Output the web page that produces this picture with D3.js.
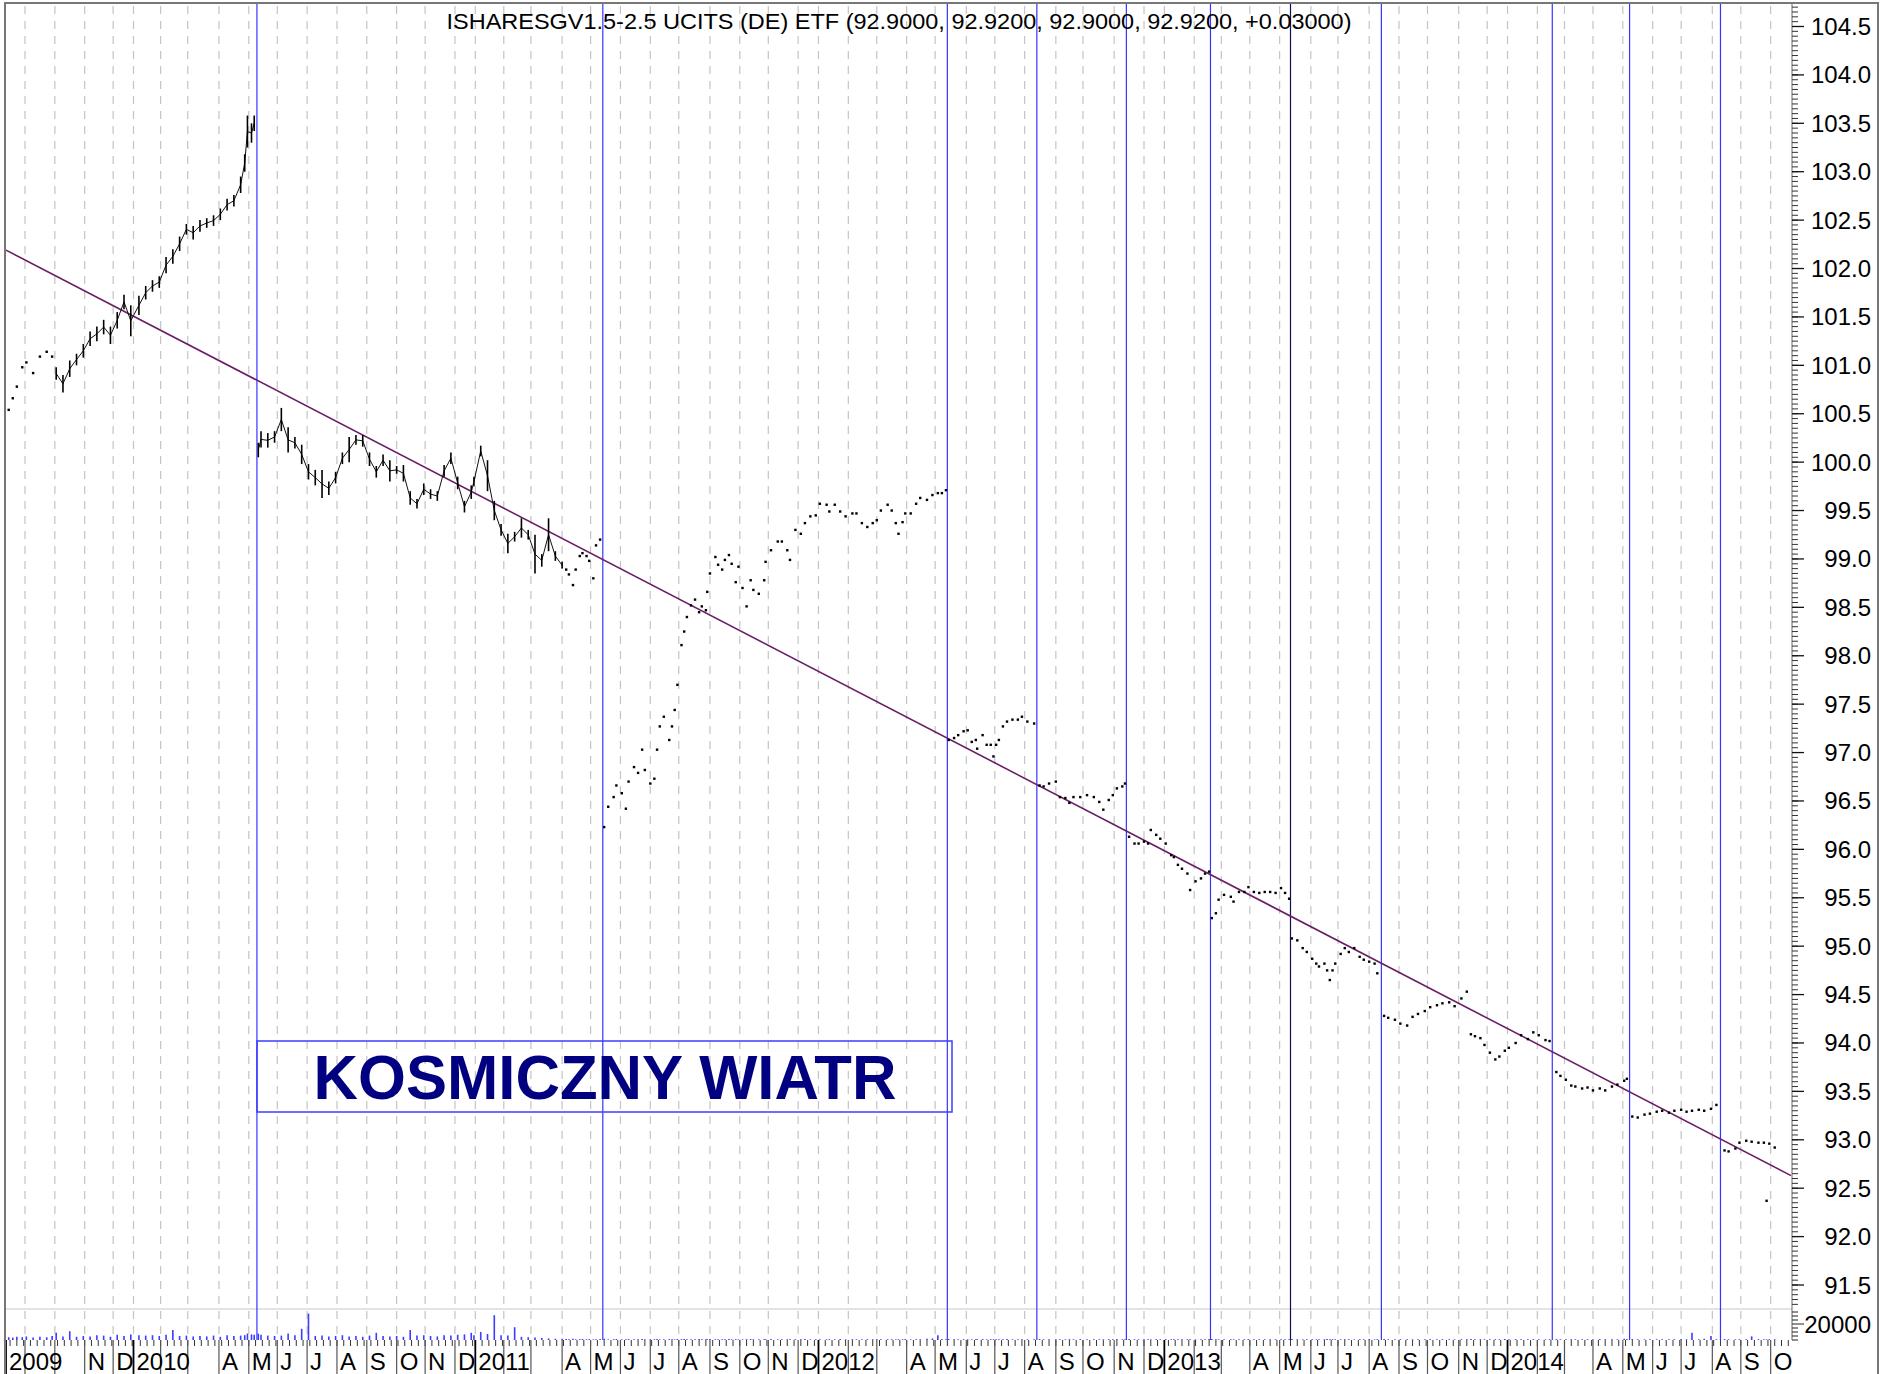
<!DOCTYPE html>
<html>
<head>
<meta charset="utf-8">
<script src="https://cdn.jsdelivr.net/npm/d3@7"></script>
<style>
  html, body { margin: 0; padding: 0; background: #fff; }
  svg { display: block; }
  text { font-family: "Liberation Sans", Arial, sans-serif; }
</style>
</head>
<body>
<div id="chart"></div>
<script>
// ---- chart values ----

const titleText = "ISHARESGV1.5-2.5 UCITS (DE) ETF (92.9000, 92.9200, 92.9000, 92.9200, +0.03000)";
const boxText = "KOSMICZNY WIATR";

// first and last bar slot of the time axis
const axisRange = ["2009-08-12", "2014-10-22"];

// price axis labels
const priceTicks = [91.5, 92, 92.5, 93, 93.5, 94, 94.5, 95, 95.5, 96, 96.5, 97, 97.5, 98,
  98.5, 99, 99.5, 100, 100.5, 101, 101.5, 102, 102.5, 103, 103.5, 104, 104.5];
const volumeTicks = [20000];

// vertical marker lines
const eventDates = ["2010-05-11", "2011-05-13", "2012-05-14", "2012-08-14", "2012-11-14",
  "2013-02-19", "2013-05-13", "2013-08-14", "2014-02-18", "2014-05-08", "2014-08-11"];

// trend line end points [date, price]
const trendLine = [["2009-08-12", 102.19], ["2014-10-22", 92.63]];

// dense bar periods: [date, high, low, volume]
const barsA = [
  ["2009-10-02",100.98,100.85,9000],["2009-10-09",100.90,100.72,4500],["2009-10-16",101.05,100.88,11000],
  ["2009-10-23",101.12,101.00,4000],["2009-10-30",101.22,101.08,5000],["2009-11-06",101.35,101.20,4500],
  ["2009-11-13",101.40,101.25,6000],["2009-11-20",101.47,101.32,5500],["2009-11-27",101.40,101.22,4000],
  ["2009-12-04",101.55,101.38,6500],["2009-12-11",101.73,101.58,5000],["2009-12-18",101.62,101.30,7000],
  ["2010-01-08",101.72,101.52,6000],["2010-01-15",101.82,101.68,5500],["2010-01-22",101.88,101.76,6000],
  ["2010-01-29",101.92,101.80,5000],["2010-02-05",102.12,101.95,6500],["2010-02-12",102.20,102.05,12500],
  ["2010-02-19",102.33,102.18,5000],["2010-02-26",102.46,102.35,5500],["2010-03-05",102.44,102.30,4500],
  ["2010-03-12",102.50,102.38,5000],["2010-03-19",102.52,102.42,4500],["2010-03-26",102.55,102.44,5500],
  ["2010-04-02",102.62,102.50,4000],["2010-04-09",102.72,102.60,6000],["2010-04-16",102.76,102.64,5000],
  ["2010-04-23",102.95,102.78,5500],["2010-04-28",103.18,103.00,6000],["2010-04-30",103.58,103.25,8000],
  ["2010-05-05",103.50,103.30,7000],["2010-05-07",103.58,103.42,6500]
];
const barsB = [
  ["2010-05-12",100.20,100.05,8000],["2010-05-14",100.32,100.15,6500],["2010-05-21",100.30,100.15,5500],
  ["2010-05-28",100.32,100.20,5000],["2010-06-04",100.56,100.32,5500],["2010-06-11",100.36,100.10,8000],
  ["2010-06-18",100.26,100.14,6000],["2010-06-25",100.18,99.98,14000],["2010-07-02",99.98,99.82,33000],
  ["2010-07-09",99.92,99.76,5000],["2010-07-16",99.92,99.63,5500],["2010-07-23",99.80,99.66,4500],
  ["2010-07-30",99.90,99.78,5000],["2010-08-06",100.10,99.98,6000],["2010-08-13",100.26,100.00,4500],
  ["2010-08-20",100.28,100.18,5000],["2010-08-27",100.28,100.16,4000],["2010-09-03",100.10,99.96,5500],
  ["2010-09-10",99.96,99.84,9000],["2010-09-17",100.08,99.96,5000],["2010-09-24",100.02,99.80,4500],
  ["2010-10-01",99.96,99.88,5000],["2010-10-08",99.97,99.80,4000],["2010-10-15",99.70,99.56,12500],
  ["2010-10-22",99.62,99.52,5500],["2010-10-29",99.78,99.66,6000],["2010-11-05",99.72,99.62,5000],
  ["2010-11-12",99.70,99.60,4500],["2010-11-19",99.97,99.85,6000],["2010-11-26",100.10,99.98,5500],
  ["2010-12-03",99.85,99.72,6500],["2010-12-10",99.60,99.48,7000],["2010-12-17",99.76,99.62,9000],
  ["2010-12-21",99.85,99.75,6000],["2011-01-07",100.17,100.06,10000],["2011-01-14",100.02,99.70,7500],
  ["2011-01-21",99.60,99.40,31000],["2011-01-28",99.36,99.24,6000],["2011-02-04",99.26,99.06,5500],
  ["2011-02-11",99.28,99.18,16000],["2011-02-18",99.42,99.22,4000],["2011-02-25",99.30,99.20,3500],
  ["2011-03-04",99.25,98.85,3000],["2011-03-11",99.05,98.92,2500],["2011-03-18",99.42,99.08,2000],
  ["2011-03-25",99.08,98.98,1500],["2011-04-01",98.97,98.90,1500]
];

// thin trading periods, drawn as single prints: [date, price, volume]
const dots2009 = [
  ["2009-08-14",100.54,3500],["2009-08-19",100.66,3000],["2009-08-24",100.78,4000],["2009-08-28",100.98,3500],
  ["2009-09-02",101.03,4500],["2009-09-09",100.92,3000],["2009-09-16",101.09,4000],["2009-09-23",101.14,3500],
  ["2009-09-29",101.09,5000]
];
const dots2011 = [
  ["2011-04-06",98.89,1200],["2011-04-08",98.84,900],["2011-04-13",98.73,1500],["2011-04-15",98.89,800],
  ["2011-04-20",99.03,1000],["2011-04-22",99.06,1300],["2011-04-27",99.03,900],["2011-04-29",98.98,1100],
  ["2011-05-04",98.80,800],["2011-05-06",99.14,1000],["2011-05-11",99.20,1200],
  ["2011-05-16",96.23,1500],["2011-05-19",96.44,800],["2011-05-25",96.54,1000],["2011-05-27",96.66,1200],
  ["2011-06-02",96.58,900],["2011-06-07",96.42,800],["2011-06-09",96.70,1100],["2011-06-15",96.85,1000],
  ["2011-06-20",96.79,900],["2011-06-23",97.03,1300],["2011-06-27",96.82,800],["2011-07-01",96.68,1000],
  ["2011-07-06",96.73,900],["2011-07-08",97.03,1200],["2011-07-12",97.27,800],["2011-07-15",97.37,1000],
  ["2011-07-21",97.13,1100],["2011-07-25",97.27,900],["2011-07-27",97.44,800],["2011-07-29",97.70,1200],
  ["2011-08-03",98.11,1000],["2011-08-05",98.25,1400],["2011-08-09",98.40,900],["2011-08-12",98.52,1000],
  ["2011-08-17",98.58,800],["2011-08-22",98.45,1100],["2011-08-24",98.51,900],["2011-08-29",98.47,800],
  ["2011-08-30",98.66,1000],["2011-09-01",98.85,1200],["2011-09-07",99.02,900],["2011-09-09",98.94,800],
  ["2011-09-14",98.89,1000],["2011-09-16",98.99,900],["2011-09-21",99.04,1100],["2011-09-23",98.95,800],
  ["2011-09-28",98.76,1000],["2011-09-30",98.92,900],["2011-10-05",98.70,800],["2011-10-10",98.51,1000],
  ["2011-10-13",98.78,1200],["2011-10-17",98.68,900],["2011-10-21",98.64,800],["2011-10-27",98.78,1000],
  ["2011-10-28",98.97,900],["2011-11-03",99.09,1100],["2011-11-10",99.18,800],["2011-11-15",99.18,1000],
  ["2011-11-21",99.09,900],["2011-11-23",98.99,800],["2011-11-29",99.30,1000],["2011-12-05",99.26,900],
  ["2011-12-08",99.37,1200],["2011-12-14",99.44,800],["2011-12-20",99.45,1000],["2012-01-03",99.57,900],
  ["2012-01-10",99.56,800],["2012-01-12",99.49,1000],["2012-01-18",99.56,900],["2012-01-24",99.49,1100],
  ["2012-01-30",99.44,800],["2012-02-06",99.47,1000],["2012-02-09",99.47,900],["2012-02-15",99.37,800],
  ["2012-02-21",99.33,1000],["2012-02-27",99.37,900],["2012-03-01",99.40,1100],["2012-03-06",99.50,800],
  ["2012-03-13",99.56,1000],["2012-03-16",99.50,900],["2012-03-21",99.37,800],["2012-03-23",99.26,1000],
  ["2012-03-28",99.38,900],["2012-03-30",99.47,1200],["2012-04-05",99.47,800],["2012-04-11",99.57,1000],
  ["2012-04-16",99.63,900],["2012-04-23",99.61,1500],["2012-04-27",99.66,2000],["2012-05-03",99.68,6000],
  ["2012-05-08",99.68,1200],["2012-05-11",99.71,1000],
  ["2012-05-15",97.13,1200],["2012-05-21",97.15,900],["2012-05-24",97.18,800],["2012-05-30",97.22,1000],
  ["2012-06-04",97.23,900],["2012-06-07",97.11,800],["2012-06-12",97.13,1000],["2012-06-13",97.04,900],
  ["2012-06-19",97.18,1100],["2012-06-22",97.08,800],["2012-06-27",97.08,1000],["2012-06-29",96.96,900],
  ["2012-07-03",97.08,800],["2012-07-05",97.13,1000],["2012-07-10",97.27,900],["2012-07-13",97.32,1100],
  ["2012-07-19",97.34,800],["2012-07-25",97.34,1000],["2012-07-30",97.37,900],["2012-08-03",97.32,800],
  ["2012-08-10",97.30,1000],
  ["2012-08-16",96.66,1200],["2012-08-21",96.65,900],["2012-08-27",96.68,800],["2012-09-03",96.70,1000],
  ["2012-09-06",96.54,900],["2012-09-12",96.53,800],["2012-09-17",96.48,1000],["2012-09-20",96.54,900],
  ["2012-09-27",96.54,1100],["2012-10-04",96.56,800],["2012-10-11",96.54,1000],["2012-10-17",96.49,900],
  ["2012-10-22",96.41,800],["2012-10-26",96.51,1000],["2012-10-31",96.56,900],["2012-11-05",96.63,1100],
  ["2012-11-09",96.65,800],["2012-11-13",96.68,1000],
  ["2012-11-16",96.13,1200],["2012-11-22",96.06,900],["2012-11-27",96.06,800],["2012-12-03",96.08,1000],
  ["2012-12-06",96.06,900],["2012-12-10",96.20,800],["2012-12-14",96.15,1000],["2012-12-19",96.11,900],
  ["2013-01-03",96.06,1100],["2013-01-09",95.94,800],["2013-01-11",95.92,1000],["2013-01-16",95.84,900],
  ["2013-01-21",95.80,800],["2013-01-25",95.75,1000],["2013-01-29",95.58,900],["2013-02-04",95.67,800],
  ["2013-02-08",95.70,1000],["2013-02-13",95.75,900],["2013-02-18",95.77,1100],
  ["2013-02-20",95.29,1200],["2013-02-25",95.34,900],["2013-02-27",95.48,800],["2013-03-05",95.53,1000],
  ["2013-03-12",95.51,900],["2013-03-14",95.46,800],["2013-03-20",95.56,1000],["2013-03-26",95.56,900],
  ["2013-03-29",95.61,1100],["2013-04-04",95.56,800],["2013-04-10",95.55,1000],["2013-04-16",95.56,900],
  ["2013-04-22",95.56,800],["2013-04-26",95.55,1000],["2013-05-02",95.60,900],["2013-05-07",95.55,800],
  ["2013-05-10",95.49,1000],
  ["2013-05-14",95.08,1200],["2013-05-20",95.06,900],["2013-05-24",94.98,800],["2013-05-29",94.94,1000],
  ["2013-06-04",94.87,900],["2013-06-07",94.82,800],["2013-06-11",94.79,1000],["2013-06-17",94.82,900],
  ["2013-06-19",94.75,1100],["2013-06-21",94.65,800],["2013-06-25",94.75,1000],["2013-06-27",94.82,900],
  ["2013-07-03",94.92,800],["2013-07-08",94.98,1000],["2013-07-11",94.94,900],["2013-07-17",94.98,800],
  ["2013-07-23",94.89,1000],["2013-07-26",94.86,900],["2013-08-01",94.84,1100],["2013-08-07",94.82,800],
  ["2013-08-09",94.72,1000],
  ["2013-08-16",94.28,1200],["2013-08-21",94.26,900],["2013-08-28",94.24,800],["2013-09-03",94.20,1000],
  ["2013-09-10",94.18,900],["2013-09-16",94.27,800],["2013-09-20",94.30,1000],["2013-09-27",94.33,900],
  ["2013-10-03",94.37,1100],["2013-10-10",94.39,800],["2013-10-16",94.41,1000],["2013-10-23",94.42,900],
  ["2013-10-29",94.38,800],["2013-11-05",94.46,1000],["2013-11-11",94.53,900],["2013-11-14",94.09,1200],
  ["2013-11-19",94.07,800],["2013-11-25",94.05,1000],["2013-11-28",93.98,900],["2013-12-04",93.90,800],
  ["2013-12-10",93.83,1000],["2013-12-13",93.86,900],["2013-12-19",93.92,1100],["2014-01-03",93.95,800],
  ["2014-01-10",94.00,1000],["2014-01-16",94.08,900],["2014-01-23",94.04,800],["2014-01-29",94.11,1000],
  ["2014-02-04",94.08,900],["2014-02-11",94.03,800],["2014-02-14",94.02,1000],
  ["2014-02-21",93.70,1200],["2014-02-26",93.66,900],["2014-03-04",93.62,800],["2014-03-10",93.56,1000],
  ["2014-03-13",93.55,900],["2014-03-20",93.53,800],["2014-03-26",93.54,1000],["2014-04-01",93.51,900],
  ["2014-04-08",93.53,1100],["2014-04-14",93.51,800],["2014-04-21",93.55,1000],["2014-04-25",93.57,900],
  ["2014-05-02",93.61,1500],["2014-05-06",93.63,1200],
  ["2014-05-12",93.24,1200],["2014-05-16",93.23,900],["2014-05-23",93.26,800],["2014-05-29",93.27,1000],
  ["2014-06-05",93.29,900],["2014-06-11",93.30,800],["2014-06-18",93.28,1000],["2014-06-24",93.30,900],
  ["2014-07-01",93.31,1100],["2014-07-07",93.29,800],["2014-07-11",93.30,9000],["2014-07-18",93.31,900],
  ["2014-07-24",93.30,1500],["2014-07-31",93.32,5000],["2014-08-06",93.36,1000],
  ["2014-08-14",92.89,1200],["2014-08-19",92.88,900],["2014-08-26",92.91,800],["2014-08-29",92.97,1000],
  ["2014-09-05",92.99,900],["2014-09-11",92.98,4500],["2014-09-18",92.97,1000],["2014-09-24",92.97,900],
  ["2014-09-26",92.37,800],["2014-09-30",92.96,1000],["2014-10-06",92.92,900]
];

// ---- layout ----
const W = 1892, H = 1374;
const plotLeft = 6, plotRight = 1791, panelRight = 1792;
const plotTop = 4, priceBottom = 1309, volBase = 1340, frameRight = 1878;

const svg = d3.select("#chart").append("svg")
    .attr("width", W)
    .attr("height", H);

const parse = d3.utcParse("%Y-%m-%d");

// trading calendar: weekdays, no session between Dec 22 and Jan 1
const days = d3.utcDays(parse(axisRange[0]), d3.utcDay.offset(parse(axisRange[1]), 1)).filter(d => {
    const wd = d.getUTCDay(), m = d.getUTCMonth(), dd = d.getUTCDate();
    if (wd === 0 || wd === 6) return false;
    if (m === 11 && dd >= 22) return false;
    if (m === 0 && dd === 1) return false;
    return true;
});
const bisectDay = d3.bisector(d => d).left;
const xIdx = d3.scaleLinear().domain([0, days.length - 1]).range([plotLeft, plotRight]);
const x = s => xIdx(Math.min(bisectDay(days, typeof s === "string" ? parse(s) : s), days.length - 1));

const y = d3.scaleLinear().domain([91.5, 104.5]).range([1285, 26.5]);
const yVol = d3.scaleLinear().domain([0, 20000]).range([volBase, 1324]);

// ---- grid ----
const monthStarts = days.filter((d, i) => i === 0 || d.getUTCMonth() !== days[i - 1].getUTCMonth());

svg.append("g").selectAll("line")
    .data(monthStarts.slice(1))
    .join("line")
    .attr("x1", d => x(d)).attr("x2", d => x(d))
    .attr("y1", plotTop + 2).attr("y2", volBase)
    .attr("stroke", "#c4c4c4")
    .attr("stroke-width", 1.2)
    .attr("stroke-dasharray", "8,7");

// price / volume separator
svg.append("line")
    .attr("x1", plotLeft).attr("x2", panelRight)
    .attr("y1", priceBottom).attr("y2", priceBottom)
    .attr("stroke", "#c8c8c8").attr("stroke-width", 1.2);

// ---- marker lines ----
const darkMarker = "2013-05-13";
svg.append("g").selectAll("line")
    .data(eventDates)
    .join("line")
    .attr("x1", d => x(d)).attr("x2", d => x(d))
    .attr("y1", plotTop).attr("y2", volBase)
    .attr("stroke", d => d === darkMarker ? "#101050" : "#3535ff")
    .attr("stroke-width", 1.2);

// ---- trend line ----
svg.append("path")
    .datum(trendLine)
    .attr("d", d3.line().x(d => x(d[0])).y(d => y(d[1])))
    .attr("fill", "none")
    .attr("stroke", "#6a1e66")
    .attr("stroke-width", 1.6);

// ---- volume ----
const volRows = [].concat(
    dots2009.map(d => [d[0], d[2]]),
    barsA.map(d => [d[0], d[3]]),
    barsB.map(d => [d[0], d[3]]),
    dots2011.map(d => [d[0], d[2]])
);
svg.append("g").selectAll("line")
    .data(volRows)
    .join("line")
    .attr("x1", d => x(d[0])).attr("x2", d => x(d[0]))
    .attr("y1", volBase).attr("y2", d => yVol(d[1]))
    .attr("stroke", "#3c3cff")
    .attr("stroke-width", 1.6);

// ---- price bars ----
function drawBars(rows) {
    let g = svg.append("g");
    g.append("path")
        .datum(rows)
        .attr("d", d3.line().x(d => x(d[0])).y(d => y((d[1] + d[2]) / 2)))
        .attr("fill", "none")
        .attr("stroke", "#111")
        .attr("stroke-width", 1);
    g.selectAll("line")
        .data(rows)
        .join("line")
        .attr("x1", d => x(d[0])).attr("x2", d => x(d[0]))
        .attr("y1", d => y(d[1])).attr("y2", d => y(d[2]))
        .attr("stroke", "#000")
        .attr("stroke-width", 1.6);
}
drawBars(barsA);
drawBars(barsB);

function drawDots(rows) {
    svg.append("g").selectAll("rect")
        .data(rows)
        .join("rect")
        .attr("x", d => x(d[0]) - 1.2)
        .attr("y", d => y(d[1]) - 1.2)
        .attr("width", 2.4)
        .attr("height", 2.4)
        .attr("fill", "#000");
}
drawDots(dots2009);
drawDots(dots2011);

// ---- label box ----
svg.append("rect")
    .attr("x", 257).attr("y", 1041)
    .attr("width", 695).attr("height", 71)
    .attr("fill", "none")
    .attr("stroke", "#3c3cff")
    .attr("stroke-width", 1.5);
svg.append("text")
    .attr("x", 605).attr("y", 1099)
    .attr("text-anchor", "middle")
    .attr("font-size", 63)
    .attr("font-weight", "bold")
    .attr("fill", "#000080")
    .attr("textLength", 583)
    .attr("lengthAdjust", "spacingAndGlyphs")
    .text(boxText);

// ---- title ----
svg.append("text")
    .attr("x", 899).attr("y", 28.5)
    .attr("text-anchor", "middle")
    .attr("font-size", 22)
    .style("font-family", "'Liberation Sans Narrow', 'Arial Narrow', 'Liberation Sans', Arial, sans-serif")
    .attr("fill", "#000")
    .attr("textLength", 905)
    .attr("lengthAdjust", "spacingAndGlyphs")
    .text(titleText);

// ---- price axis (right) ----
const axisG = svg.append("g");
axisG.append("line")
    .attr("x1", panelRight).attr("x2", panelRight)
    .attr("y1", plotTop).attr("y2", volBase)
    .attr("stroke", "#666").attr("stroke-width", 1);

const minorVals = d3.range(0, 270).map(i => 91.3 + i * 0.05).filter(v => y(v) > plotTop + 1 && y(v) < priceBottom);
axisG.selectAll("line.minor")
    .data(minorVals)
    .join("line")
    .attr("class", "minor")
    .attr("x1", panelRight).attr("x2", panelRight + 6)
    .attr("y1", d => y(d)).attr("y2", d => y(d))
    .attr("stroke", "#333").attr("stroke-width", 1);
axisG.selectAll("line.major")
    .data(priceTicks)
    .join("line")
    .attr("class", "major")
    .attr("x1", panelRight).attr("x2", panelRight + 12)
    .attr("y1", d => y(d)).attr("y2", d => y(d))
    .attr("stroke", "#111").attr("stroke-width", 1.3);
axisG.selectAll("text.plab")
    .data(priceTicks)
    .join("text")
    .attr("class", "plab")
    .attr("x", 1871)
    .attr("y", d => y(d) + 8.5)
    .attr("text-anchor", "end")
    .attr("font-size", 24)
    .attr("fill", "#000")
    .text(d => d3.format(".1f")(d));

// volume axis
axisG.selectAll("line.vminor")
    .data(d3.range(0, 8).map(i => i * 5000))
    .join("line")
    .attr("class", "vminor")
    .attr("x1", panelRight).attr("x2", d => panelRight + (volumeTicks.includes(d) ? 12 : 6))
    .attr("y1", d => yVol(d)).attr("y2", d => yVol(d))
    .attr("stroke", "#222").attr("stroke-width", 1);
axisG.selectAll("text.vlab")
    .data(volumeTicks)
    .join("text")
    .attr("class", "vlab")
    .attr("x", 1871)
    .attr("y", d => yVol(d) + 8.5)
    .attr("text-anchor", "end")
    .attr("font-size", 24)
    .attr("fill", "#000")
    .text(d => d);

// ---- time axis (bottom) ----
const timeG = svg.append("g");
const mondays = days.filter(d => d.getUTCDay() === 1);
timeG.selectAll("line.wk")
    .data(mondays)
    .join("line")
    .attr("class", "wk")
    .attr("x1", d => x(d)).attr("x2", d => x(d))
    .attr("y1", volBase).attr("y2", volBase + 6)
    .attr("stroke", "#333").attr("stroke-width", 1);

const isYear = (d, i) => i === 0 || d.getUTCMonth() === 0;
timeG.selectAll("line.mo")
    .data(monthStarts)
    .join("line")
    .attr("class", "mo")
    .attr("x1", d => x(d)).attr("x2", d => x(d))
    .attr("y1", volBase).attr("y2", H)
    .attr("stroke", (d, i) => isYear(d, i) ? "#000" : "#555")
    .attr("stroke-width", (d, i) => isYear(d, i) ? 1.8 : 1.2);

// labels: years always shown, month letters only where there is room
const letters = "JFMAMJJASOND";
const labels = monthStarts.map((d, i) => {
    const lx = x(d) + 3;
    const year = isYear(d, i);
    const t = timeG.append("text")
        .attr("x", lx).attr("y", 1370)
        .attr("font-size", 24)
        .attr("fill", "#000")
        .text(year ? String(d.getUTCFullYear()) : letters[d.getUTCMonth()]);
    return {t, year, x0: lx, x1: lx + t.node().getComputedTextLength()};
});
const yearBoxes = labels.filter(l => l.year);
let lastEnd = -Infinity;
labels.forEach(l => {
    if (l.year) { lastEnd = l.x1; return; }
    const clash = yearBoxes.some(b => l.x0 < b.x1 + 6 && l.x1 > b.x0 - 1);
    if (clash || l.x0 < lastEnd + 2) l.t.remove();
    else lastEnd = l.x1;
});

// ---- frame ----
svg.append("line")
    .attr("x1", 5).attr("x2", frameRight)
    .attr("y1", 3).attr("y2", 3)
    .attr("stroke", "#777").attr("stroke-width", 2);
svg.append("line")
    .attr("x1", 5).attr("x2", 5)
    .attr("y1", 2).attr("y2", H)
    .attr("stroke", "#777").attr("stroke-width", 2);
svg.append("line")
    .attr("x1", frameRight).attr("x2", frameRight)
    .attr("y1", 2).attr("y2", H)
    .attr("stroke", "#777").attr("stroke-width", 2);
</script>
</body>
</html>
